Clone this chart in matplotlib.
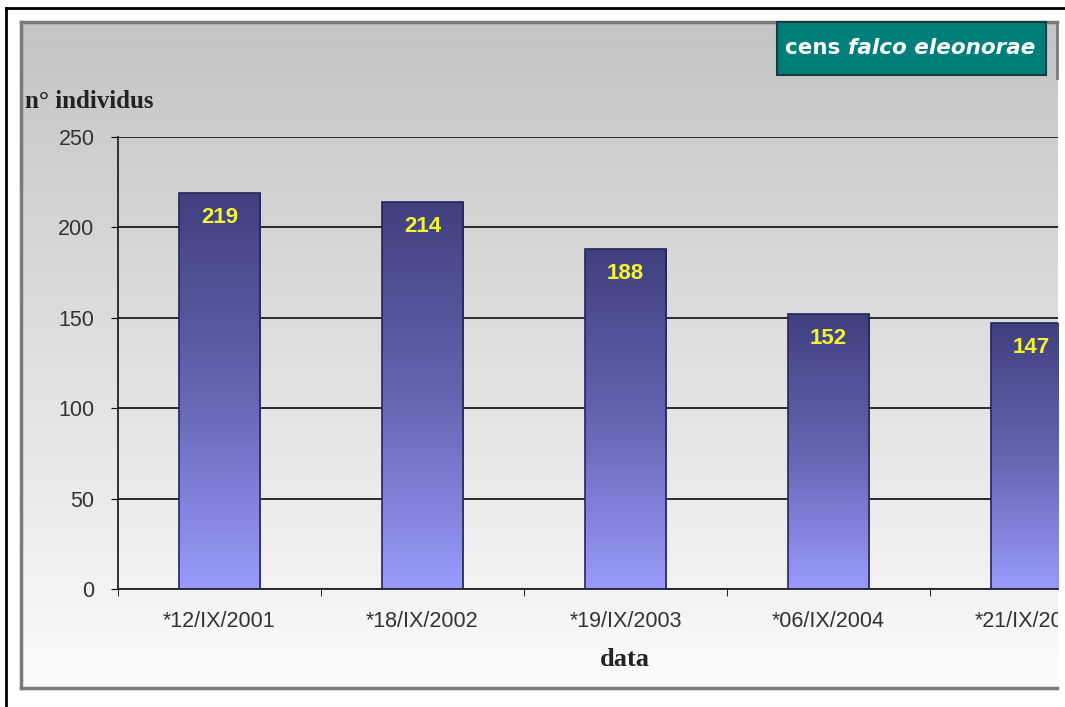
import numpy as np
import matplotlib
matplotlib.use("Agg")
import matplotlib.pyplot as plt
from matplotlib.colors import LinearSegmentedColormap
from matplotlib.lines import Line2D
from matplotlib.patches import Rectangle
from matplotlib.text import Annotation
from matplotlib.transforms import Bbox, TransformedBbox

# data
dates = ["*12/IX/2001", "*18/IX/2002", "*19/IX/2003", "*06/IX/2004", "*21/IX/2005"]
counts = [219, 214, 188, 152, 147]
yticks = [0, 50, 100, 150, 200, 250]

W, H = 1065, 707
fig = plt.figure(figsize=(W / 100, H / 100), dpi=100)
fig.patch.set_facecolor("white")

def fx(px):
    return px / W

def fy(py):
    return 1 - py / H

# gray chart area with vertical gradient
bg = fig.add_axes([fx(20), fy(688), fx(1058 - 20), (688 - 22) / H])
grad = np.linspace(0, 1, 256).reshape(-1, 1)
gray_cmap = LinearSegmentedColormap.from_list("g", ["#c4c4c4", "#fbfbfb"])
bg.imshow(grad, aspect="auto", cmap=gray_cmap, extent=(0, 1, 1, 0))
bg.set_axis_off()

# frames
fig.add_artist(Line2D([fx(6), fx(6)], [0, fy(8)], color="black", lw=2))
fig.add_artist(Line2D([fx(6), 1], [fy(8), fy(8)], color="black", lw=2))
fig.add_artist(Line2D([fx(21), fx(21)], [fy(688), fy(22)], color="#7a7a7a", lw=2.5))
fig.add_artist(Line2D([fx(21), fx(1057)], [fy(22), fy(22)], color="#7a7a7a", lw=2.5))
fig.add_artist(Line2D([fx(21), fx(1057)], [fy(688), fy(688)], color="#7a7a7a", lw=2.5))
fig.add_artist(Line2D([fx(1057), fx(1057)], [fy(78), fy(22)], color="#7a7a7a", lw=2))

# plot area
ax = fig.add_axes([fx(118), fy(589), fx(1058 - 118), (589 - 137) / H])
ax.set_facecolor("none")
x = np.arange(len(dates))
bars = ax.bar(x, counts, width=0.4, color="none", edgecolor="#25255a", lw=1.2, zorder=3)

bar_cmap = LinearSegmentedColormap.from_list("b", ["#40407e", "#6464b2", "#9a9afc"])
for b in bars:
    x0, w, h = b.get_x(), b.get_width(), b.get_height()
    ax.imshow(grad, aspect="auto", cmap=bar_cmap,
              extent=(x0, x0 + w, 0, h), origin="upper", zorder=2)
    ax.text(x0 + w / 2, h - 13.5, str(int(h)), ha="center", va="center",
            color="#f4f430", fontsize=16, fontweight="bold",
            family=["Liberation Sans Narrow", "Liberation Sans"], zorder=4)

ax.set_yticks(yticks)
ax.set_xticks(x)
ax.set_xticklabels(dates)
ax.set_xticks(np.arange(-0.5, len(dates)), minor=True)
ax.set_xlim(-0.5, (1058 - 118) / 203 - 0.5)
ax.set_ylim(0, 250)
ax.tick_params(axis="x", which="major", length=0, pad=16)
ax.tick_params(axis="x", which="minor", length=5, direction="out", color="black")
ax.tick_params(axis="y", length=5, direction="out", color="black", pad=12)
clip = TransformedBbox(Bbox([[0, 0], [fx(1058), 1]]), fig.transFigure)
for lab in ax.get_xticklabels() + ax.get_yticklabels():
    lab.set_family("Liberation Sans")
    lab.set_fontsize(15.5)
    lab.set_color("#333333")
    lab.set_clip_on(True)
    lab.set_clip_box(clip)

ax.grid(axis="y", color="#2a2a2a", lw=1.4, zorder=1)
ax.set_axisbelow(True)
for s in ["top", "right"]:
    ax.spines[s].set_visible(False)
ax.spines["left"].set_color("#222222")
ax.spines["bottom"].set_color("#222222")
ax.spines["left"].set_linewidth(1.3)
ax.spines["bottom"].set_linewidth(1.3)

fig.text(fx(25), fy(101), "n° individus", family="Liberation Serif",
         fontweight="bold", fontsize=18, color="#222222", va="center", ha="left")
fig.text(fx(625), fy(660), "data", family="Liberation Serif",
         fontweight="bold", fontsize=19, color="#222222", va="center", ha="center")

# title box
fig.add_artist(Rectangle((fx(777), fy(75)), fx(1046 - 777), (75 - 22) / H,
                         facecolor="#007f7a", edgecolor="#1e3a38", lw=1.5, zorder=2))
t1 = fig.text(fx(785), fy(48), "cens ", family="DejaVu Sans", fontweight="bold",
              fontsize=15.5, color="white", va="center", ha="left", zorder=3)
t2 = Annotation("falco eleonorae", xy=(1, 0.5), xycoords=t1, va="center", ha="left",
                family="DejaVu Sans", fontweight="bold", style="italic",
                fontsize=15.5, color="white", annotation_clip=False, zorder=3)
fig.add_artist(t2)

fig.savefig("out.png", dpi=100)
